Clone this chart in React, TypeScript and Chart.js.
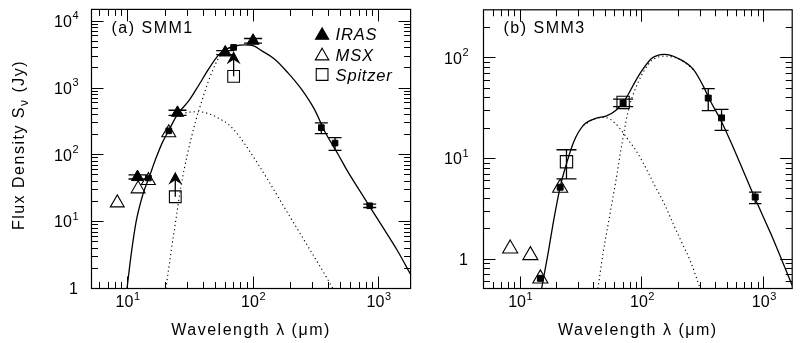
import React, { useEffect, useRef } from "react";
import { Chart, registerables } from "chart.js";

Chart.register(...registerables);

// ================= Panel (a) SMM1 =================
const A_X_RANGE = [5.16, 1800];
const A_Y_RANGE = [1, 15000];

const A_IRAS_WL = [12, 25, 60, 100];
const A_IRAS_FLUX = [46.5, 425, 3400, 5100];
const A_IRAS_LO = [43.5, 390, 3160, 4700];
const A_IRAS_HI = [50, 465, 3620, 5500];

const A_MSX_WL = [8.28, 12.13, 14.65, 21.3];
const A_MSX_FLUX = [19.1, 31, 41.2, 214];

const A_SPITZER_WL = [24, 70];
const A_SPITZER_FLUX = [23.6, 1496];
const A_SPITZER_LOWER_LIMIT = [true, true];

const A_OTHER_WL = [14.65, 21.3, 70, 350, 450, 850];
const A_OTHER_FLUX = [45, 229, 4050, 255, 150, 17.3];
const A_OTHER_LO = [null, null, null, 208, 117, 16.3];
const A_OTHER_HI = [null, null, null, 300, 181, 18.3];

const A_TOTAL_WL = [9.9, 10.7, 11.7, 13.2, 14.9, 16.8, 19, 21.4, 24.9, 30.7, 36.9, 44.3, 53, 60, 72, 86, 100, 116, 148, 189, 243, 310, 372, 474, 569, 771, 1043, 1412, 1800];
const A_TOTAL_FLUX = [1.0, 3.3, 10, 25, 47, 88, 155, 235, 400, 640, 1100, 1930, 3100, 3750, 4250, 4420, 4300, 3650, 2720, 1700, 960, 470, 225, 103, 56, 22.5, 9.2, 3.7, 1.62];

const A_COLD_WL = [20.2, 22.1, 24.2, 26.5, 29.9, 34.8, 40.4, 47, 54.7, 63.5, 72];
const A_COLD_FLUX = [1.0, 3.3, 10.3, 32, 100, 313, 780, 1726, 3050, 3750, 4100];

const A_WARM_WL = [24.9, 30, 37.1, 44.5, 53.3, 64, 76.7, 92, 110, 133, 191, 275, 395, 432];
const A_WARM_FLUX = [390, 431, 441, 412, 351, 283, 195, 120, 72, 40.5, 13, 4.2, 1.35, 1.0];

// ================= Panel (b) SMM3 =================
const B_X_RANGE = [5.0, 1711];
const B_Y_RANGE = [0.51, 300];

const B_MSX_WL = [8.28, 12.13, 14.65, 21.3];
const B_MSX_FLUX = [1.27, 1.09, 0.64, 5.1];

const B_SPITZER_WL = [24, 70];
const B_SPITZER_FLUX = [9.27, 36];
const B_SPITZER_LO = [6.26, null];
const B_SPITZER_HI = [12.2, null];

const B_OTHER_WL = [14.65, 21.3, 70, 350, 450, 850];
const B_OTHER_FLUX = [0.644, 5.18, 35.5, 39.8, 25.3, 4.13];
const B_OTHER_LO = [null, null, 32.7, 29.9, 19, 3.56];
const B_OTHER_HI = [null, null, 38.9, 49.4, 30.8, 4.62];

const B_TOTAL_WL = [15.0, 16.9, 19.0, 21.5, 24.3, 27.5, 33, 42.2, 50.7, 60.9, 73.2, 88, 99.5, 119, 135, 152, 207, 264, 318, 359, 445, 551, 845, 1148, 1711];
const B_TOTAL_FLUX = [0.51, 1.12, 2.57, 5.47, 9.3, 14.6, 21.3, 25.1, 26.3, 29.9, 38.9, 58, 74, 98, 106, 108, 96, 76.7, 52.6, 38.5, 23.8, 13.5, 4.04, 1.76, 0.547];

const B_COLD_WL = [43.5, 47.8, 53.9, 60.9, 68.9, 77.8, 93.5, 106, 119, 152, 207, 264];
const B_COLD_FLUX = [0.51, 1.12, 2.57, 5.9, 14.6, 31, 58, 77, 93, 104, 95.5, 76.5];

const B_WARM_WL = [33, 42.2, 50, 60, 70, 78, 88, 100, 127, 150, 183, 210, 250, 299];
const B_WARM_FLUX = [21.3, 25.1, 25.5, 22.5, 18, 15, 12.3, 9.5, 5.4, 3.7, 2.15, 1.5, 0.95, 0.52];

// ================= Tick labels =================
const X_TICK_VALUES = [10, 100, 1000];
const X_TICK_LABELS = [["10", "1"], ["10", "2"], ["10", "3"]];
const A_Y_TICK_VALUES = [1, 10, 100, 1000, 10000];
const A_Y_TICK_LABELS = [["1", ""], ["10", "1"], ["10", "2"], ["10", "3"], ["10", "4"]];
const B_Y_TICK_VALUES = [1, 10, 100];
const B_Y_TICK_LABELS = [["1", ""], ["10", "1"], ["10", "2"]];

const FONT = '"Liberation Sans", Arial, Helvetica, sans-serif';

const pts = (xs: number[], ys: number[]) => xs.map((x, i) => ({ x, y: ys[i] }));

function drawMarker(ctx: CanvasRenderingContext2D, style: string, x: number, y: number, r: number, fill: boolean, lw: number) {
  ctx.beginPath();
  if (style === "triangle") {
    const a = (2 * Math.PI) / 3;
    ctx.moveTo(x, y - r);
    ctx.lineTo(x + Math.sin(a) * r, y - Math.cos(a) * r);
    ctx.lineTo(x + Math.sin(2 * a) * r, y - Math.cos(2 * a) * r);
    ctx.closePath();
  } else {
    const s = r * Math.SQRT1_2;
    ctx.rect(x - s, y - s, 2 * s, 2 * s);
  }
  if (fill) ctx.fill();
  ctx.lineWidth = lw;
  ctx.stroke();
}

const SED_PLUGIN = {
  id: "sed",
  afterDatasetsDraw(chart: any) {
    const cfg = chart.options.plugins.sed;
    const ctx: CanvasRenderingContext2D = chart.ctx;
    const ca = chart.chartArea;
    const xs = chart.scales.x;
    const ys = chart.scales.y;
    ctx.save();
    ctx.strokeStyle = "#000";
    ctx.fillStyle = "#000";

    // error bars and lower-limit arrows
    chart.data.datasets.forEach((ds: any) => {
      ds.data.forEach((p: any, j: number) => {
        const x = xs.getPixelForValue(p.x);
        const y = ys.getPixelForValue(p.y);
        if (ds.errLo && ds.errLo[j] != null) {
          const y1 = ys.getPixelForValue(ds.errLo[j]);
          const y2 = ys.getPixelForValue(ds.errHi[j]);
          const c = Array.isArray(ds.capHalf) ? ds.capHalf[j] : ds.capHalf;
          ctx.lineWidth = 1.3;
          ctx.beginPath();
          ctx.moveTo(x, y1);
          ctx.lineTo(x, y2);
          ctx.moveTo(x - c, y1);
          ctx.lineTo(x + c, y1);
          ctx.moveTo(x - c, y2);
          ctx.lineTo(x + c, y2);
          ctx.stroke();
        }
        if (ds.lowerLimit && ds.lowerLimit[j]) {
          const tip = y - ds.arrowLen;
          ctx.lineWidth = 1.3;
          ctx.beginPath();
          ctx.moveTo(x, y);
          ctx.lineTo(x, tip + 6);
          ctx.stroke();
          ctx.beginPath();
          ctx.moveTo(x, tip);
          ctx.lineTo(x + 7, tip + 13);
          ctx.lineTo(x, tip + 8.5);
          ctx.lineTo(x - 7, tip + 13);
          ctx.closePath();
          ctx.fill();
        }
      });
    });

    // ticks (inward, all four sides)
    const logTicks = (min: number, max: number) => {
      const out: { v: number; major: boolean }[] = [];
      for (let e = Math.floor(Math.log10(min)) - 1; e <= Math.ceil(Math.log10(max)); e++) {
        for (let k = 1; k <= 9; k++) {
          const v = k * Math.pow(10, e);
          if (v <= min * 1.004 || v >= max * 0.996) continue;
          out.push({ v, major: k === 1 });
        }
      }
      return out;
    };
    const snap = (v: number) => Math.round(v - 0.5) + 0.5;
    ctx.lineWidth = 1;
    ctx.beginPath();
    for (const t of logTicks(xs.min, xs.max)) {
      const px = snap(xs.getPixelForValue(t.v));
      const len = t.major ? cfg.majorLen : cfg.minorLen;
      ctx.moveTo(px, ca.bottom);
      ctx.lineTo(px, ca.bottom - len);
      ctx.moveTo(px, ca.top);
      ctx.lineTo(px, ca.top + len);
    }
    for (const t of logTicks(ys.min, ys.max)) {
      const py = snap(ys.getPixelForValue(t.v));
      const len = t.major ? cfg.majorLen : cfg.minorLen;
      ctx.moveTo(ca.left, py);
      ctx.lineTo(ca.left + len, py);
      ctx.moveTo(ca.right, py);
      ctx.lineTo(ca.right - len, py);
    }
    ctx.stroke();

    // frame
    ctx.lineWidth = 1.2;
    ctx.strokeRect(ca.left, ca.top, ca.right - ca.left, ca.bottom - ca.top);

    // tick labels
    const FS = 16;
    const SUP = 11;
    const drawPow = (base: string, exp: string, x: number, y: number, align: string) => {
      (ctx as any).letterSpacing = "0px";
      ctx.font = `${FS}px ${FONT}`;
      const wb = ctx.measureText(base).width;
      ctx.font = `${SUP}px ${FONT}`;
      const we = exp ? ctx.measureText(exp).width : 0;
      const total = wb + we;
      const x0 = align === "right" ? x - total : x - total / 2;
      ctx.textAlign = "left";
      ctx.textBaseline = "alphabetic";
      ctx.font = `${FS}px ${FONT}`;
      ctx.fillText(base, x0, y);
      if (exp) {
        ctx.font = `${SUP}px ${FONT}`;
        ctx.fillText(exp, x0 + wb + 0.5, y - 7.5);
      }
    };
    cfg.xTickValues.forEach((v: number, i: number) => {
      const lab = cfg.xTickLabels[i];
      drawPow(lab[0], lab[1], xs.getPixelForValue(v), ca.bottom + 18.5, "center");
    });
    cfg.yTickValues.forEach((v: number, i: number) => {
      const lab = cfg.yTickLabels[i];
      drawPow(lab[0], lab[1], ca.left - cfg.yLabelGap, ys.getPixelForValue(v) + 5.7, "right");
    });

    // x title
    (ctx as any).letterSpacing = "1.5px";
    ctx.font = `16px ${FONT}`;
    ctx.textAlign = "center";
    ctx.textBaseline = "alphabetic";
    ctx.fillText("Wavelength λ (μm)", (ca.left + ca.right) / 2, 334.5);

    // y title
    if (cfg.yTitle) {
      ctx.save();
      ctx.translate(23.5, 145);
      ctx.rotate(-Math.PI / 2);
      ctx.textAlign = "left";
      ctx.font = `16px ${FONT}`;
      const p1 = "Flux Density S";
      const p3 = " (Jy)";
      const w1 = ctx.measureText(p1).width;
      const w3 = ctx.measureText(p3).width;
      ctx.font = `12px ${FONT}`;
      const w2 = ctx.measureText("ν").width;
      let x0 = -(w1 + w2 + w3) / 2;
      ctx.font = `16px ${FONT}`;
      ctx.fillText(p1, x0, 0);
      x0 += w1;
      ctx.font = `12px ${FONT}`;
      ctx.fillText("ν", x0, 4);
      x0 += w2;
      ctx.font = `16px ${FONT}`;
      ctx.fillText(p3, x0, 0);
      ctx.restore();
    }

    // panel label
    (ctx as any).letterSpacing = "1.5px";
    ctx.font = `16px ${FONT}`;
    ctx.textAlign = "left";
    ctx.fillText(cfg.panelLabel, ca.left + 20, 32.5);

    // legend
    if (cfg.legend) {
      const lx = ca.right - 88.5;
      chart.data.datasets.forEach((ds: any) => {
        if (!ds.legendLabel) return;
        const row = ds.legendRow;
        const cy = cfg.legendY0 + row * cfg.legendDy;
        const isFill = ds.backgroundColor !== "rgba(0,0,0,0)";
        ctx.fillStyle = "#000";
        ctx.strokeStyle = "#000";
        const r = ds.legendRadius;
        const yy = ds.pointStyle === "triangle" ? cy + r / 4 : cy;
        drawMarker(ctx, ds.pointStyle, lx, yy, r, isFill, 1.1);
        (ctx as any).letterSpacing = "0.8px";
        ctx.font = `italic 16.5px ${FONT}`;
        ctx.textAlign = "left";
        ctx.fillText(ds.legendLabel, lx + 13.5, cy + 6.8);
      });
    }
    ctx.restore();
  },
};

const HOLLOW = "rgba(0,0,0,0)";

const curve = (wl: number[], flux: number[], dotted: boolean) => ({
  data: pts(wl, flux),
  showLine: true,
  pointRadius: 0,
  borderColor: "#000",
  borderWidth: dotted ? 1.1 : 1.3,
  borderDash: dotted ? [1.2, 3] : [],
  cubicInterpolationMode: "monotone",
  fill: false,
  order: 10,
});

function makeConfig(panel: "a" | "b") {
  const isA = panel === "a";
  const datasets: any[] = [];
  if (isA) {
    datasets.push({
      data: pts(A_IRAS_WL, A_IRAS_FLUX),
      pointStyle: "triangle",
      pointRadius: 7,
      backgroundColor: "#000",
      borderColor: "#000",
      borderWidth: 1,
      errLo: A_IRAS_LO,
      errHi: A_IRAS_HI,
      capHalf: 9,
      legendLabel: "IRAS",
      legendRow: 0,
      legendRadius: 7.6,
      order: 1,
    });
    datasets.push({
      data: pts(A_MSX_WL, A_MSX_FLUX),
      pointStyle: "triangle",
      pointRadius: 8,
      backgroundColor: HOLLOW,
      borderColor: "#000",
      borderWidth: 1.1,
      legendLabel: "MSX",
      legendRow: 1,
      legendRadius: 7.8,
      order: 1,
    });
    datasets.push({
      data: pts(A_SPITZER_WL, A_SPITZER_FLUX),
      pointStyle: "rect",
      pointRadius: 8.3,
      backgroundColor: HOLLOW,
      borderColor: "#000",
      borderWidth: 1.1,
      lowerLimit: A_SPITZER_LOWER_LIMIT,
      arrowLen: 25,
      legendLabel: "Spitzer",
      legendRow: 2,
      legendRadius: 8.3,
      order: 1,
    });
    datasets.push({
      data: pts(A_OTHER_WL, A_OTHER_FLUX),
      pointStyle: "rect",
      pointRadius: 4,
      backgroundColor: "#000",
      borderColor: "#000",
      borderWidth: 1,
      errLo: A_OTHER_LO,
      errHi: A_OTHER_HI,
      capHalf: 6.5,
      order: 0,
    });
    datasets.push(curve(A_TOTAL_WL, A_TOTAL_FLUX, false));
    datasets.push(curve(A_COLD_WL, A_COLD_FLUX, true));
    datasets.push(curve(A_WARM_WL, A_WARM_FLUX, true));
  } else {
    datasets.push({
      data: pts(B_MSX_WL, B_MSX_FLUX),
      pointStyle: "triangle",
      pointRadius: 8.7,
      backgroundColor: HOLLOW,
      borderColor: "#000",
      borderWidth: 1.1,
      order: 1,
    });
    datasets.push({
      data: pts(B_SPITZER_WL, B_SPITZER_FLUX),
      pointStyle: "rect",
      pointRadius: 8.7,
      backgroundColor: HOLLOW,
      borderColor: "#000",
      borderWidth: 1.1,
      errLo: B_SPITZER_LO,
      errHi: B_SPITZER_HI,
      capHalf: 10,
      order: 1,
    });
    datasets.push({
      data: pts(B_OTHER_WL, B_OTHER_FLUX),
      pointStyle: "rect",
      pointRadius: 4.2,
      backgroundColor: "#000",
      borderColor: "#000",
      borderWidth: 1,
      errLo: B_OTHER_LO,
      errHi: B_OTHER_HI,
      capHalf: [0, 0, 10, 6.5, 7, 6.2],
      order: 0,
    });
    datasets.push(curve(B_TOTAL_WL, B_TOTAL_FLUX, false));
    datasets.push(curve(B_COLD_WL, B_COLD_FLUX, true));
    datasets.push(curve(B_WARM_WL, B_WARM_FLUX, true));
  }

  const xr = isA ? A_X_RANGE : B_X_RANGE;
  const yr = isA ? A_Y_RANGE : B_Y_RANGE;
  return {
    type: "scatter",
    data: { datasets },
    options: {
      responsive: false,
      maintainAspectRatio: false,
      animation: false,
      devicePixelRatio: 1,
      events: [],
      layout: {
        padding: isA
          ? { left: 91.5, right: 6.5, top: 6.5, bottom: 54.5 }
          : { left: 63.5, right: 0.5, top: 6.5, bottom: 54.5 },
      },
      scales: {
        x: { type: "logarithmic", min: xr[0], max: xr[1], display: false },
        y: { type: "logarithmic", min: yr[0], max: yr[1], display: false },
      },
      plugins: {
        legend: { display: false },
        tooltip: { enabled: false },
        sed: {
          majorLen: 12,
          minorLen: 6.5,
          xTickValues: X_TICK_VALUES,
          xTickLabels: X_TICK_LABELS,
          yTickValues: isA ? A_Y_TICK_VALUES : B_Y_TICK_VALUES,
          yTickLabels: isA ? A_Y_TICK_LABELS : B_Y_TICK_LABELS,
          yLabelGap: isA ? 13.5 : 15.5,
          yTitle: isA,
          panelLabel: isA ? "(a) SMM1" : "(b) SMM3",
          legend: isA,
          legendY0: 33.5,
          legendDy: 20.5,
        },
      },
    },
    plugins: [SED_PLUGIN],
  };
}

function Panel({ panel, left, width }: { panel: "a" | "b"; left: number; width: number }) {
  const ref = useRef<HTMLCanvasElement>(null);
  useEffect(() => {
    const chart = new Chart(ref.current as HTMLCanvasElement, makeConfig(panel) as any);
    return () => chart.destroy();
  }, [panel]);
  return (
    <canvas
      ref={ref}
      width={width}
      height={343}
      style={{ position: "absolute", left, top: 0, width, height: 343, display: "block" }}
    />
  );
}

export default function App() {
  return (
    <div style={{ position: "fixed", left: 0, top: 0, width: 802, height: 343, background: "#fff", overflow: "hidden" }}>
      <Panel panel="a" left={0} width={420} />
      <Panel panel="b" left={420} width={382} />
    </div>
  );
}
